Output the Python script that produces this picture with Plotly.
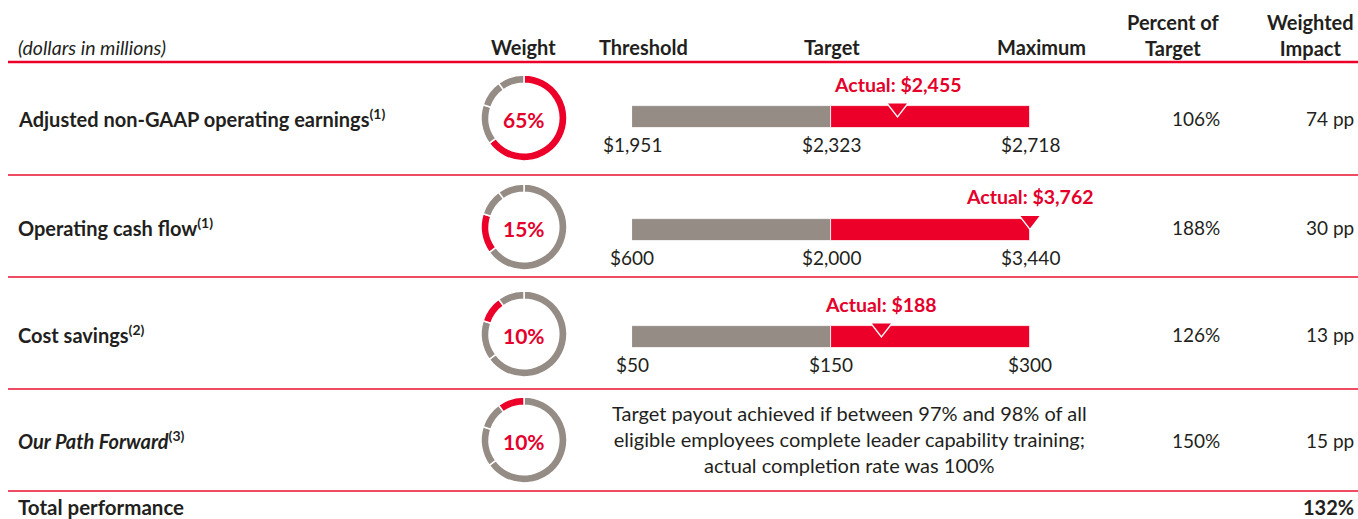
import plotly.graph_objects as go

# ---- data -------------------------------------------------------------
metrics = ["Adjusted non-GAAP operating earnings", "Operating cash flow",
           "Cost savings", "Our Path Forward"]
footnotes = ["(1)", "(1)", "(2)", "(3)"]
weights = [65, 15, 10, 10]

# threshold / target / maximum goals and actual results (dollars in millions)
threshold = [1951, 600, 50]
target = [2323, 2000, 150]
maximum = [2718, 3440, 300]
actual = [2455, 3762, 188]

percent_of_target = [106, 188, 126, 150]
weighted_impact = [74, 30, 13, 15]
total_performance = 132

path_forward_note = ("Target payout achieved if between 97% and 98% of all<br>"
                     "eligible employees complete leader capability training;<br>"
                     "actual completion rate was 100%")

# ---- styling ----------------------------------------------------------
W, H = 1358, 519
RED = "#EC0029"
RED_TXT = "#E4002B"
GRAY = "#958C85"
INK = "#231F20"
RULE = "#EE4B63"
FONT = "Lato"

row_y = [118, 227, 334, 440]        # vertical centre of each metric row (px)
bar_y = [117, 229.5, 337]           # vertical centre of each goal bar (px)
rules_y = [175, 277, 389, 491]
DONUT_X = 524
DONUT_R = 43


def fx(px):
    return px / W


def scale_pos(v, lo, mid, hi):
    """Map a dollar value onto the goal scale: threshold=0, target=1, maximum=2."""
    if v <= mid:
        p = (v - lo) / (mid - lo)
    else:
        p = 1 + (v - mid) / (hi - mid)
    return max(0.0, min(2.0, p))


fig = go.Figure()

# goal bars: threshold->target in gray, target->maximum in red
fig.add_trace(go.Bar(orientation="h", y=bar_y, x=[1] * 3, base=[0] * 3, width=22,
                     marker=dict(color=GRAY, line=dict(color="white", width=0.8)),
                     hoverinfo="skip", showlegend=False))
fig.add_trace(go.Bar(orientation="h", y=bar_y, x=[1] * 3, base=[1] * 3, width=22,
                     marker=dict(color=RED, line=dict(color="white", width=0.8)),
                     hoverinfo="skip", showlegend=False))

# actual result markers
act_pos = [scale_pos(a, lo, mid, hi) for a, lo, mid, hi in zip(actual, threshold, target, maximum)]
fig.add_trace(go.Scatter(x=act_pos, y=[b - 9.5 for b in bar_y], mode="markers",
                         marker=dict(symbol="triangle-down", size=19, color=RED,
                                     line=dict(color="white", width=1.3)),
                         hoverinfo="skip", showlegend=False, cliponaxis=False))

annotations = []


def add_text(text, x, y, size=18, color=INK, xanchor="center", xref="paper", yref="y"):
    annotations.append(dict(text=text, x=x, y=y, xref=xref, yref=yref,
                            xanchor=xanchor, yanchor="middle", showarrow=False,
                            font=dict(family=FONT, size=size, color=color)))


for i, (a, p) in enumerate(zip(actual, act_pos)):
    add_text(f"<b>Actual: ${a:,}</b>", p, bar_y[i] - 33, size=19.5, color=RED_TXT, xref="x")
    for v, pos in zip((threshold[i], target[i], maximum[i]), (0, 1, 2)):
        add_text(f"${v:,}", pos, bar_y[i] + 27.5, size=19, xref="x")

# donuts showing every metric's weight, current metric highlighted
H_FRAC = 1.0 / H
for i, w in enumerate(weights):
    colors = [RED if j == i else GRAY for j in range(len(weights))]
    fig.add_trace(go.Pie(values=weights, sort=False, direction="clockwise", rotation=0,
                         hole=0.81, marker=dict(colors=colors, line=dict(color="white", width=1.5)),
                         textinfo="none", hoverinfo="skip", showlegend=False,
                         domain=dict(x=[fx(DONUT_X - DONUT_R), fx(DONUT_X + DONUT_R)],
                                     y=[1 - (row_y[i] + DONUT_R) * H_FRAC,
                                        1 - (row_y[i] - DONUT_R) * H_FRAC])))
    add_text(f"<b>{w}%</b>", fx(DONUT_X), row_y[i] + 1, size=21, color=RED_TXT)

# metric names and results
for i, (m, n) in enumerate(zip(metrics, footnotes)):
    label = f"<b>{m}<sup>{n}</sup></b>"
    if i == 3:
        label = f"<b><i>{m}</i><sup>{n}</sup></b>"
    add_text(label, fx(16), row_y[i], size=20, xanchor="left")
    add_text(f"{percent_of_target[i]}%", fx(1222), row_y[i], size=19, xanchor="right")
    add_text(f"{weighted_impact[i]} pp", fx(1356), row_y[i], size=19, xanchor="right")

add_text(path_forward_note, fx(849), 439, size=20)

# header row
add_text("<i>(dollars in millions)</i>", fx(16), 47, size=19.5, xanchor="left")
add_text("<b>Weight</b>", fx(523), 47, size=20)
add_text("<b>Threshold</b>", fx(643), 47, size=20)
add_text("<b>Target</b>", fx(832), 47, size=20)
add_text("<b>Maximum</b>", fx(1041), 47, size=20)
add_text("<b>Percent of<br>Target</b>", fx(1222), 34.5, size=20, xanchor="right")
add_text("<b>Weighted<br>Impact</b>", fx(1356), 34.5, size=20, xanchor="right")

# total row
add_text("<b>Total performance</b>", fx(16), 507, size=20.5, xanchor="left")
add_text(f"<b>{total_performance}%</b>", fx(1356), 507, size=20, xanchor="right")

shapes = [dict(type="line", xref="paper", yref="y", x0=fx(8), x1=1, y0=62, y1=62,
               line=dict(color=RED, width=2.5))]
for ry in rules_y:
    shapes.append(dict(type="line", xref="paper", yref="y", x0=fx(8), x1=1, y0=ry, y1=ry,
                       line=dict(color=RULE, width=2)))

fig.update_layout(
    width=W, height=H, margin=dict(l=0, r=0, t=0, b=0),
    paper_bgcolor="white", plot_bgcolor="white",
    barmode="overlay", bargap=0,
    xaxis=dict(domain=[fx(632), fx(1030)], range=[0, 2], visible=False, fixedrange=True),
    yaxis=dict(domain=[0, 1], range=[H, 0], visible=False, fixedrange=True),
    annotations=annotations, shapes=shapes,
    font=dict(family=FONT, color=INK),
)

fig.write_html("out.html")
